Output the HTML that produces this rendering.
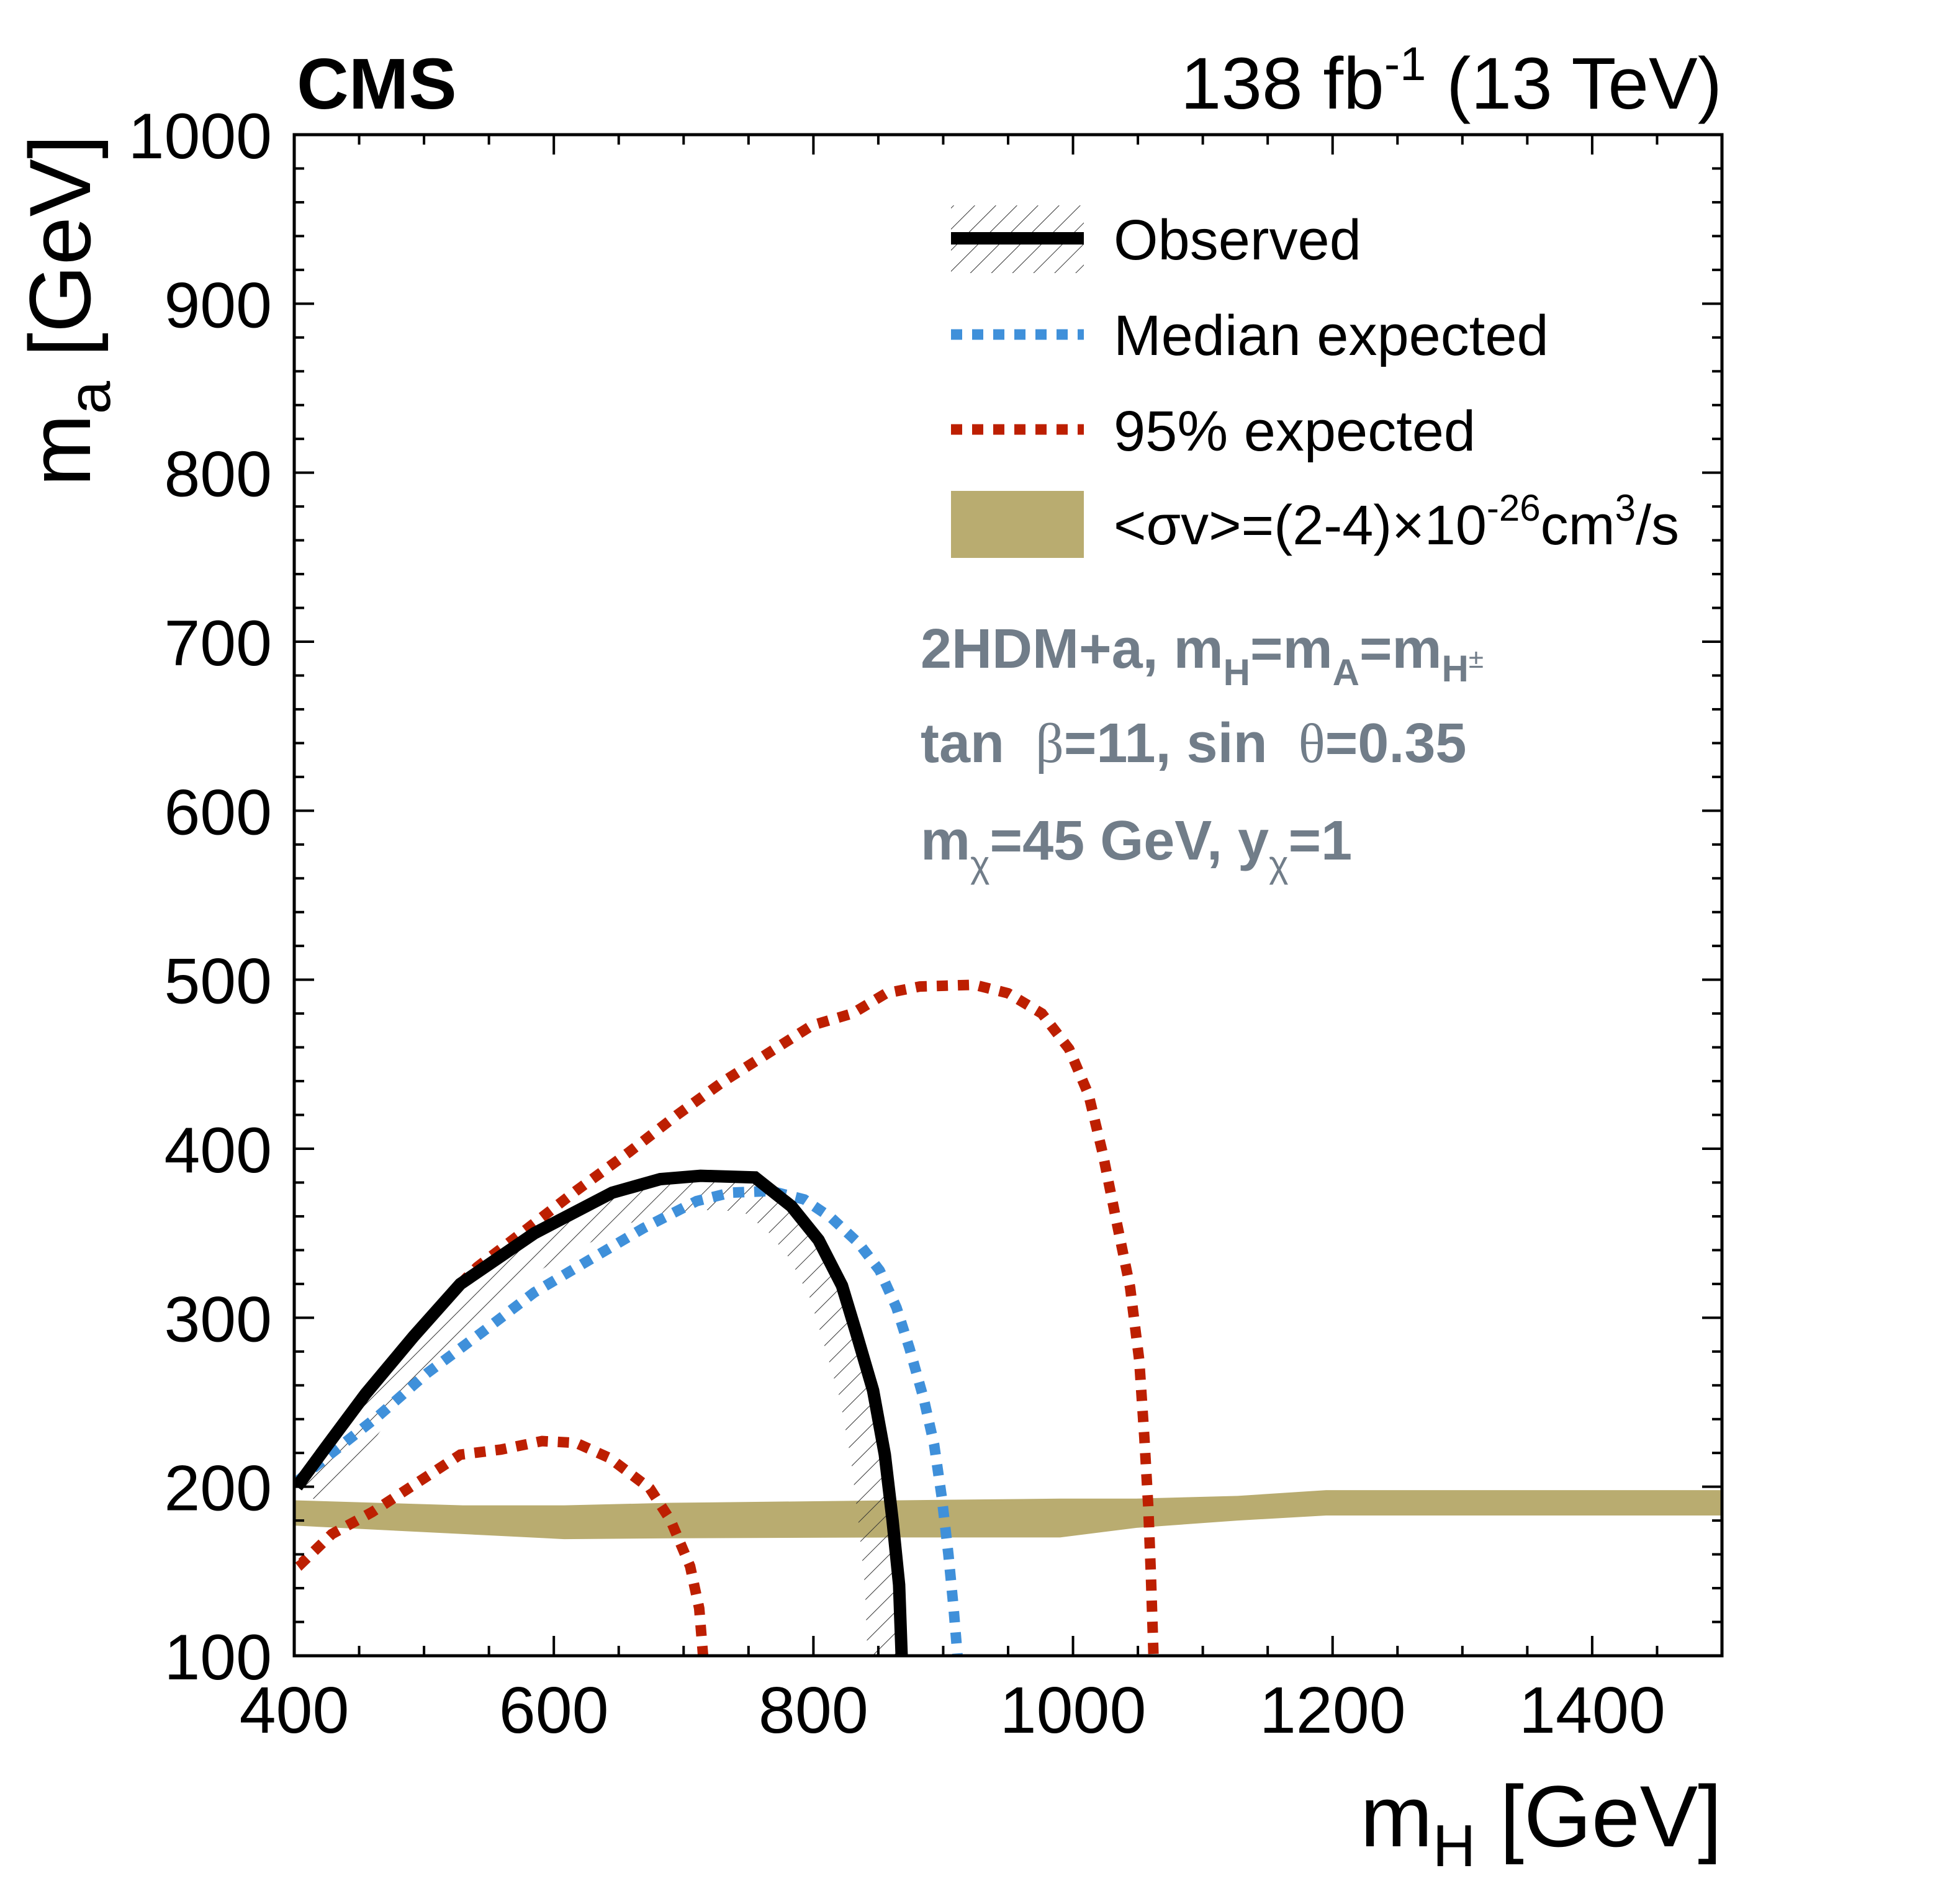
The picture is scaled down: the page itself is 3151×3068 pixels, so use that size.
<!DOCTYPE html>
<html><head><meta charset="utf-8"><style>
html,body{margin:0;padding:0;background:#fff;}
svg{display:block;font-family:"Liberation Sans",sans-serif;}
</style></head><body>
<svg id="chart" width="3151" height="3068" viewBox="0 0 3151 3068" xmlns="http://www.w3.org/2000/svg">
<defs>
<pattern id="hatch" patternUnits="userSpaceOnUse" width="24" height="24" patternTransform="rotate(45)">
<line x1="0" y1="0" x2="0" y2="24" stroke="#333" stroke-width="2"/>
</pattern>
<clipPath id="plotclip"><rect x="474" y="217" width="2300" height="2451"/></clipPath>
<clipPath id="insideclip"><path id="insidepath" d=""/></clipPath>
</defs>
<g id="plot" clip-path="url(#plotclip)"></g>
<g id="axes"></g>
<text x="478" y="175" font-size="116" font-weight="bold">CMS</text>
<text x="2774" y="175" font-size="118" text-anchor="end">138 fb<tspan dy="-46" font-size="76">-1</tspan><tspan dy="46"> (13 TeV)</tspan></text>
<text x="2774" y="2975" font-size="140" text-anchor="end">m<tspan dy="32" font-size="96">H</tspan><tspan dy="-32"> [GeV]</tspan></text>
<text transform="translate(145,217) rotate(-90)" font-size="140" text-anchor="end">m<tspan dy="32" font-size="96">a</tspan><tspan dy="-32"> [GeV]</tspan></text>
<g>
<rect x="1532" y="331" width="214" height="109" fill="url(#hatch)"/>
<line x1="1532" y1="384" x2="1746" y2="384" stroke="#000" stroke-width="20"/>
<text x="1794" y="418" font-size="92">Observed</text>
<line x1="1532" y1="539" x2="1746" y2="539" stroke="#3f90da" stroke-width="17" stroke-dasharray="18 16"/>
<text x="1794" y="572" font-size="92">Median expected</text>
<line x1="1532" y1="692" x2="1746" y2="692" stroke="#bd1f01" stroke-width="17" stroke-dasharray="18 16"/>
<text x="1794" y="726" font-size="92">95% expected</text>
<rect x="1532" y="791" width="214" height="108" fill="#b9ac70"/>
<text x="1794" y="877" font-size="90">&lt;σv&gt;=(2-4)×10<tspan dy="-38" font-size="60">-26</tspan><tspan dy="38">cm</tspan><tspan dy="-38" font-size="60">3</tspan><tspan dy="38">/s</tspan></text>
</g>
<g fill="#717d89" font-weight="bold" font-size="90">
<text x="1483" y="1076">2HDM+a, m<tspan dy="28" font-size="60">H</tspan><tspan dy="-28">=m</tspan><tspan dy="28" font-size="60">A</tspan><tspan dy="-28">=m</tspan><tspan dy="22" font-size="60">H</tspan><tspan dy="-22" font-size="44" font-weight="normal">±</tspan></text>
<text x="1483" y="1228" xml:space="preserve">tan  <tspan font-weight="normal" font-family="Liberation Serif, serif">β</tspan>=11, sin  <tspan font-weight="normal" font-family="Liberation Serif, serif">θ</tspan>=0.35</text>
<text x="1483" y="1385">m<tspan dy="28" font-size="60" font-weight="normal">χ</tspan><tspan dy="-28">=45 GeV, y</tspan><tspan dy="28" font-size="60" font-weight="normal">χ</tspan><tspan dy="-28">=1</tspan></text>
</g>
</svg>
<script>
const bandMH = [400,530,556,608,690,867,990,1049,1127,1195,1500];
const bandUpper = [192,189,189,189,190.5,192,193,193,194.6,198,198];
const bandLower = [177,172,171,169,169.5,170,170,175.7,180,183,183];
const obsMH = [402,424,455,492,528,585,645,682,713,755,783,804,822,833,846,855,861,866,868];
const obsMa = [200,223,255,289,320,350,374,382,384,383,366,346,319,291,257,219,180,142,100];
const medMH = [402,429,465,502,544,585,627,669,710,736,767,793,814,835,851,864,874,885,893,899,904,908,911];
const medMa = [203,220,242,267,291,315,334,353,369,374,375,370,359,344,328,306,282,252,225,193,160,128,100];
const up95MH = [528,541,580,617,658,695,731,762,799,830,856,882,924,950,976,997,1012,1023,1033,1044,1051,1055,1058,1060,1062];
const up95Ma = [320,330,353,375,398,420,440,455,473,480,492,496,497,492,480,459,432,397,359,318,275,229,188,148,100];
const lo95MH = [404,406,429,460,492,528,559,591,617,643,674,690,705,712,715];
const lo95Ma = [157,155,172,185,201,219,222,227,226,217,199,180,153,128,100];
const xTicks = [400,600,800,1000,1200,1400];
const yTicks = [100,200,300,400,500,600,700,800,900,1000];

const NS = "http://www.w3.org/2000/svg";
const X0=474, X1=2774, Y0=2668, Y1=217;
function X(v){return X0+(v-400)*(X1-X0)/1100;}
function Y(v){return Y0-(v-100)*(Y0-Y1)/900;}
function mk(tag, attrs, parent){const e=document.createElementNS(NS,tag);for(const k in attrs)e.setAttribute(k,attrs[k]);parent.appendChild(e);return e;}
function pts(xs,ys){return xs.map((x,i)=>X(x).toFixed(1)+","+Y(ys[i]).toFixed(1)).join(" ");}
const plot=document.getElementById("plot");
const axes=document.getElementById("axes");

let bd = bandMH.map((m,i)=>X(m)+","+Y(bandUpper[i])).join(" ")+" "+bandMH.slice().reverse().map((m,i)=>X(m)+","+Y(bandLower[bandLower.length-1-i])).join(" ");
const band=mk("polygon",{points:bd,fill:"#b9ac70"},plot);



let insideD="M"+pts(obsMH,obsMa).split(" ").join(" L")+" L"+X(402)+","+Y(100)+" Z";
document.getElementById("insidepath").setAttribute("d",insideD);
const hg=mk("g",{"clip-path":"url(#insideclip)"},plot);
const hatch=mk("polyline",{points:pts(obsMH,obsMa),fill:"none",stroke:"url(#hatch)","stroke-width":110,"stroke-linejoin":"round"},hg);



const lo=mk("polyline",{points:pts(lo95MH,lo95Ma),fill:"none",stroke:"#bd1f01","stroke-width":17,"stroke-dasharray":"18 16"},plot);


const up=mk("polyline",{points:pts(up95MH,up95Ma),fill:"none",stroke:"#bd1f01","stroke-width":17,"stroke-dasharray":"18 16"},plot);


const med=mk("polyline",{points:pts(medMH,medMa),fill:"none",stroke:"#3f90da","stroke-width":17,"stroke-dasharray":"18 16"},plot);


const obs=mk("polyline",{points:pts(obsMH,obsMa),fill:"none",stroke:"#000","stroke-width":20,"stroke-linejoin":"miter"},plot);



const frame=mk("rect",{x:X0,y:Y1,width:X1-X0,height:Y0-Y1,fill:"none",stroke:"#000","stroke-width":5},axes);


for(let v=400; v<=1500; v+=50){
  const major = (v%200===0);
  const L = major?32:16;
  mk("line",{x1:X(v),x2:X(v),y1:Y0,y2:Y0-L,stroke:"#000","stroke-width":4},axes);
  mk("line",{x1:X(v),x2:X(v),y1:Y1,y2:Y1+L,stroke:"#000","stroke-width":4},axes);
}
xTicks.forEach(v=>{
  const t=mk("text",{x:X(v),y:2792,"font-size":106,"text-anchor":"middle"},axes);
  t.textContent=v;
  
  
});
for(let v=100; v<=1000; v+=20){
  const major=(v%100===0);
  const L=major?32:16;
  mk("line",{x1:X0,x2:X0+L,y1:Y(v),y2:Y(v),stroke:"#000","stroke-width":4},axes);
  mk("line",{x1:X1,x2:X1-L,y1:Y(v),y2:Y(v),stroke:"#000","stroke-width":4},axes);
}
yTicks.forEach(v=>{
  const t=mk("text",{x:438,y:Y(v)+38,"font-size":104,"text-anchor":"end"},axes);
  t.textContent=v;
  
  
});
</script>
</body></html>
